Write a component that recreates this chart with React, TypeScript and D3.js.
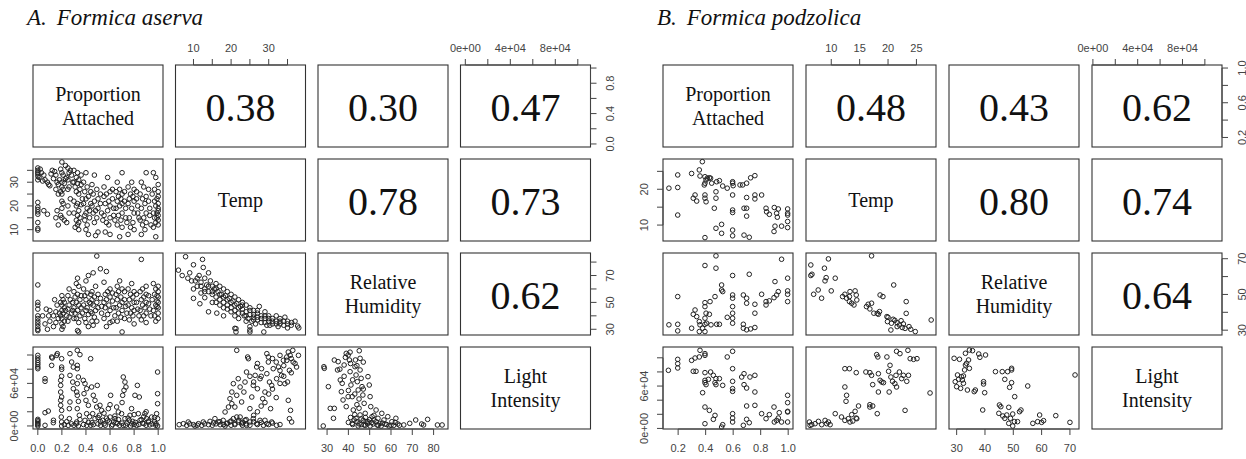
import * as d3 from 'd3';

type Pt = [number, number];

// ---------- A. Formica aserva (light in 1000s) ----------
const propTempA: Pt[] = [
  [0,36],[0,35],[0,34.2],[0,33.5],[0,32.5],[0,31],[0,21.5],[0,19.5],[0,18.5],[0,17.5],[0,16.5],[0,13],[0,10.5],[0,9.8],
  [.05,33],[.06,31],[.08,30],[.09,29],[.05,18],[.08,16.5],[.1,28.5],
  [.12,35],[.14,34.5],[.15,33],[.13,31.5],[.16,30],[.17,29],[.15,27],[.17,25],[.16,18],[.17,12],[.15,15],
  [.2,38.5],[.19,35.5],[.2,34],[.21,33],[.2,30],[.2,28],[.21,27],[.19,26],[.2,25],[.2,22],[.21,21],[.2,19],[.19,16],[.2,15],[.22,14],
  [.25,36],[.26,34],[.24,32],[.25,31],[.26,28],[.25,27],[.27,23],[.25,20],[.26,17],[.24,13],
  [.3,35],[.33,34],[.32,32],[.34,31],[.3,30],[.33,29.5],[.31,28],[.35,27],[.32,26],[.34,25],[.3,22],[.33,21],[.32,20],[.34,18],[.3,17],[.33,16],[.35,15],[.32,14],[.34,13],[.33,12],[.31,11],[.34,10],
  [.4,34],[.38,30],[.41,28],[.39,26],[.42,24],[.4,23],[.38,21],[.41,19],[.4,17],[.43,15],[.39,14],[.41,12],[.4,10],[.42,8],
  [.47,33],[.45,29],[.49,27],[.46,25],[.5,23],[.47,22],[.45,20],[.5,19],[.48,18],[.46,17],[.49,15],[.47,13],[.5,9],[.48,7.5],
  [.58,32],[.55,28],[.6,26],[.57,25],[.55,24],[.59,22],[.56,21],[.6,20],[.58,18],[.55,16],[.6,15],[.57,13],[.59,12],[.56,9],[.6,8],
  [.7,34],[.66,30],[.68,27],[.65,26],[.7,25],[.67,24],[.69,23],[.66,22],[.7,21],[.68,20],[.65,19],[.7,17],[.67,16],[.69,14],[.66,12],[.7,11],[.68,7],
  [.78,30],[.75,28],[.8,27],[.77,25],[.79,24],[.76,23],[.8,22],[.75,21],[.78,19],[.8,17],[.76,15],[.79,13],[.77,11],[.8,10],[.75,8],
  [.9,34],[.86,30],[.88,28],[.85,25],[.9,24],[.87,23],[.89,21],[.86,19],[.9,17],[.88,15],[.85,14],[.9,13],[.87,12],[.89,10],[.86,8],
  [.96,34],[.98,32],[1,29],[.97,27],[1,26],[.95,25],[1,24],[.97,22],[1,21],[.98,20],[1,19],[1,18],[.96,17],[1,16],[.97,15],[1,14],[.98,13],[1,12],[.96,11],[.98,7],
  [.02,35.5],[.03,34],[.01,32],[.04,30.5],[.11,33.5],[.18,31],[.22,29.5],[.23,31.5],[.28,33],[.29,30],[.36,29],[.37,23],[.36,20.5],
  [.39,16],[.44,26],[.44,21],[.43,18],[.52,25],[.52,21],[.53,17],[.54,14],[.62,27],[.62,23],[.63,19],[.63,16],[.64,14],[.72,26],
  [.72,22],[.73,19],[.73,15],[.74,13],[.82,26],[.82,23],[.83,20],[.83,17],[.84,15],[.92,27],[.92,22],[.93,19],[.93,16],[.94,12],
  [.99,23],[.99,17],[.99,15],[.36,33],[.27,35],[.23,37],
];

const propHumA: Pt[] = [
  [0,63],[0,50],[0,48],[0,45],[0,40],[0,38],[0,36],[0,34],[0,32],[0,30],[0,29],
  [.04,40],[.07,45],[.09,40],[.1,36],[.06,34],[.08,30],
  [.13,40],[.15,43],[.16,48],[.14,52],[.17,38],[.15,35],[.13,32],
  [.2,55],[.21,52],[.19,50],[.2,48],[.22,46],[.2,44],[.21,42],[.19,40],[.2,38],[.22,36],[.2,34],[.21,32],[.2,30],
  [.26,60],[.25,55],[.27,52],[.26,48],[.25,45],[.28,42],[.26,39],[.25,36],
  [.33,68],[.32,64],[.34,62],[.3,58],[.33,56],[.31,54],[.35,52],[.32,50],[.34,48],[.3,46],[.33,44],[.31,42],[.35,40],[.32,38],[.34,35],[.33,29],[.34,28],
  [.4,66],[.42,70],[.38,60],[.41,57],[.39,55],[.4,52],[.43,50],[.38,48],[.41,46],[.4,44],[.42,41],[.39,38],[.4,35],[.42,32],
  [.49,84.5],[.46,72],[.48,62],[.45,58],[.5,56],[.47,54],[.45,52],[.49,50],[.46,48],[.5,46],[.48,44],[.45,42],[.47,39],[.49,36],[.46,33],
  [.52,75],[.57,73],[.55,65],[.6,60],[.58,58],[.56,56],[.6,54],[.57,52],[.55,50],[.59,48],[.56,46],[.6,44],[.58,41],[.55,38],[.6,35],[.57,32],
  [.68,66],[.66,62],[.7,60],[.67,58],[.65,56],[.69,54],[.66,52],[.7,50],[.68,48],[.65,46],[.7,44],[.67,42],[.69,39],[.66,36],[.7,28],
  [.78,64],[.75,60],[.8,58],[.77,56],[.79,54],[.76,52],[.8,50],[.75,48],[.78,46],[.8,44],[.77,42],[.79,40],[.76,37],[.8,34],
  [.86,82],[.9,62],[.87,60],[.85,58],[.9,56],[.88,54],[.86,52],[.9,50],[.87,48],[.89,46],[.85,44],[.9,42],[.88,40],[.86,37],[.9,35],
  [.96,64],[1,62],[.98,60],[1,58],[.97,56],[1,54],[.95,52],[1,50],[.98,48],[1,46],[.96,44],[1,42],[.97,40],[1,38],[.98,36],
  [.22,50],[.23,44],[.24,40],[.29,50],[.29,44],[.36,55],[.36,46],[.37,42],[.44,56],[.44,49],[.44,43],[.52,53],[.53,47],[.53,42],
  [.62,57],[.62,51],[.63,46],[.64,40],[.72,58],[.72,52],[.73,47],[.74,42],[.82,56],[.82,50],[.83,45],[.84,40],[.92,55],[.92,49],
  [.93,45],[.94,40],[.99,55],[.99,51],[.99,47],[.1,44],[.18,42],[.3,38],[.45,36],[.62,36],[.72,38],
];

const tempHumA: Pt[] = [
  [6,74],[7,70],[7.9,84],[8.5,68],[9,72],[10,78],[10.5,66],[11,62],[11.5,70],[12.4,82],[12.6,76],[12,65],[13,68],[13,60],[13.5,63],
  [14,72],[14,58],[14.5,66],[15,62],[15,56],[15.5,60],[16,64],[16,54],[16.5,58],[17,62],[17,52],[17.5,56],[18,60],[18,50],[18.5,55],
  [19,58],[19,48],[19.5,53],[20,56],[20,46],[20.5,51],[21,54],[21,44],[21.3,28],[21.3,30.5],[21.5,49],[22,52],[22,42],[22.5,47],
  [23,50],[23,45],[23.5,40],[24,48],[24,43],[24.5,38],[25,46],[25,41],[25,28],[25.5,36],[26,44],[26,39],[26.5,34],[27,42],[27,37],
  [27.5,47],[28,40],[28,35],[28.7,28],[29,38],[29,43],[29.5,33],[30,40],[30,36],[30.3,33],[31,38],[31,34],[32,40],[32,36],[32.5,32],
  [33,38],[33,34],[34,36],[34.3,39],[35,34],[36,33],[36.1,35],[37,36],[37.7,32.4],[38,31],
  [10,60],[12,57],[15,50],[18,46],[22,38],[10,53],[11.7,49],[13,53.5],[14,43],[16.2,42],[21,30.7],[25,32],[25,29.5],
  [9.5,66],[11,68],[12,62],[13,58],[14,62],[15,58],[16,60],[16,50],[17,56],[17,48],[18,54],[19,52],[19,45],[20,50],[21,48],[21,40],
  [22,46],[23,42],[23,48],[24,40],[25,44],[26,41],[26,37],[27,39],[27,44],[28,38],[29,40],[29,35],[30,38],[31,36],[32,34],[33,36],
  [34,33],[35,36],[35,31],[20,43],[18,40],[24,36],
];

const propLightA: Pt[] = [
  [0,99.5],[0,95.8],[0,92.5],[0,89.2],[0,86.4],[0,83.1],[0,80.7],[0,9.3],[0,5.6],[0,1.8],[0,0],[0,3.5],[0,7.5],
  [.06,18.7],[.087,21],[.06,0.9],[.115,97.2],[.12,95.8],[.157,99.5],[.162,101.9],[.198,94.8],[.115,85.4],[.06,62.9],[.06,66.6],[.129,4.6],[.13,8],
  [.198,83],[.198,79.8],[.198,70.1],[.19,64.3],[.19,57.2],[.19,47.8],[.198,40.8],[.19,36.1],[.19,29.1],[.198,22],[.195,12.6],[.198,5.6],[.198,0],
  [.267,101.9],[.281,90.1],[.295,83],[.267,71.3],[.29,61.9],[.295,52.5],[.267,33.8],[.262,24.4],[.262,10.3],[.253,0.9],
  [.328,106.6],[.35,100.5],[.328,85.4],[.328,80.7],[.337,69],[.328,59.6],[.323,47.8],[.328,43.2],[.337,34.7],[.328,24.4],[.345,15],[.323,5.6],[.337,0],
  [.378,64.3],[.392,59.6],[.406,52.5],[.384,45.5],[.4,36.1],[.42,29.1],[.406,17.3],[.392,7.9],[.406,0.9],
  [.439,94.8],[.447,54.9],[.461,43.2],[.475,36.1],[.489,26.7],[.456,17.3],[.475,10.3],[.461,1.8],
  [.494,57.2],[.516,29.1],[.53,22],[.511,15],[.539,7.9],[.522,0.9],
  [.605,43.2],[.586,24.4],[.6,12.6],[.594,5.6],[.613,0],
  [.655,26.7],[.669,19.7],[.641,10.3],[.66,3.2],
  [.71,69],[.724,61.9],[.732,54.9],[.716,50.2],[.705,43.2],[.696,17.3],[.724,10.3],[.71,0.9],
  [.779,24.4],[.766,15],[.788,6.5],[.771,0],
  [.807,43.2],[.827,57.2],[.843,40.8],[.835,17.3],[.849,7.9],[.821,0.9],
  [.89,17.3],[.904,10.3],[.882,3.2],[.918,5.6],[.946,12.6],
  [.995,76],[.995,45.5],[.995,31.4],[.987,17.3],[.995,10.3],[.982,3.2],[.995,0],
  [.55,3],[.57,11],[.63,6],[.68,1],[.74,4],[.8,2],[.86,9],[.93,1.5],[.97,6],[.45,4.5],[.35,9],[.28,3],
  [.22,2],[.24,6],[.3,1],[.32,3],[.38,2],[.42,5],[.44,1],[.5,3],[.52,6],[.56,1],[.58,8],[.62,2],[.65,5],[.67,9],[.7,4],[.73,1],
  [.76,8],[.78,3],[.81,5],[.84,2],[.87,4],[.9,1],[.92,7],[.95,3],[.98,1],[.5,12],[.64,14],[.75,11],[.88,13],[.97,12],[.43,13],
  [.55,18],[.8,16],[.9,20],[.6,30],[.7,33],
];

const tempLightA: Pt[] = [
  [6.2,1.8],[7.3,3.2],[8.6,5.6],[10,1.8],[11.3,3.2],[12.6,5.6],[14,1.8],[15.3,4.2],[16.6,5.6],[17.1,1.8],[17.9,7.9],[18.8,3.2],[19.7,5.6],
  [15.7,10.3],[14.4,6.5],[20.6,10.3],[21,1.8],[21.9,5.6],[22.4,12.6],[22.8,3.2],[23.7,7.9],[24.1,0.9],[25,5.6],[25.9,10.3],[26.8,3.2],
  [27.7,7.9],[28.6,0.9],[29.5,3.2],[30.8,5.6],[32.1,0.9],[12.2,0.9],[8.2,0.9],[10.4,0],[18.4,0],
  [18.4,19.7],[19.3,26.7],[19.7,38.4],[20.2,47.8],[20.6,59.6],[20.2,31.4],[21,26.7],[21.5,43.2],[21.9,66.6],[22.4,54.9],[21.5,12.6],
  [22.8,33.8],[23.4,47.8],[23.7,61.9],[24.1,76],[24.4,97.2],[25,24.4],[25.5,40.8],[25.9,57.2],[26.4,71.3],[26.8,83.1],[27,52.5],
  [27.7,66.6],[28.1,80.7],[28.4,38.4],[29,47.8],[29.5,73.7],[29.9,90.1],[30.2,61.9],[30.5,24.4],[30.8,57.2],[31.2,80.7],[32.1,66.6],
  [32.6,83.1],[33,99.5],[33.4,71.3],[33.9,92.5],[34.3,59.6],[34.8,97.2],[35.2,104.2],[35.5,78.4],[35.2,36.1],[35.8,22],[35.5,10.3],
  [36.1,5.6],[36.5,90.1],[37.4,83.1],[37.9,99.5],[21.5,106.6],[24.6,94.8],[29.5,101.9],[29.9,97.2],[34.8,92.5],[35.7,99.5],[36.4,106.6],
  [9,3],[11,1],[13,3],[15,1],[16,3],[17,6],[18,2],[19,4],[20,1],[20,7],[21,3],[22,8],[23,1],[23,5],[24,3],[24,9],[25,1],[26,6],
  [27,2],[28,5],[29,8],[30,2],[31,4],[33,2],[26,15],[27,20],[28,28],[29,33],[30,45],[31,52],[32,40],[33,60],[33,78],[34,85],
  [34,70],[35,62],[36,75],[36,95],[37,88],[31,95],[32,90],[28,70],[27,88],[26,62],[25,70],
];

const humLightA: Pt[] = [
  [28.2,0],[28.5,83.5],[28.7,81.2],[30.6,55.4],[31.5,24.8],[33.4,24.8],[33,10.8],[33.4,92.9],[34.9,78.9],[35.2,90.6],[36.2,64.8],
  [36.7,48.3],[37.5,36.6],[38,85.9],[38.6,96.7],[39,102.3],[39.9,100],[40.5,92.9],[40.8,76.5],[41.2,57.7],[41.8,41.3],[42.3,22.5],
  [42.7,8.4],[43.1,83.5],[43.6,71.8],[44.2,62.4],[44.6,50.7],[45.1,106],[45.5,95.3],[45.5,78.9],[46,67.1],[46.4,55.4],[46.8,43.6],
  [47.4,31.9],[47.9,17.8],[48.3,6],[49.2,69.5],[49.8,57.7],[50.2,41.3],[50.5,27.2],[51.1,13.1],[51.6,2.8],[53,22.5],[53.9,10.8],
  [54.8,3.7],[55.7,17.8],[56.7,8.4],[58.5,13.1],[60.4,6],[62.3,10.8],[63.2,2.8],[66,1.4],[68.8,3.7],[71.6,8.4],[74.4,2.8],[77.2,9.3],
  [75.3,1.4],[81.8,1.4],[84,1.4],[43.6,10.8],[45.5,15.5],[47.4,1.4],[49.2,6],[50.2,0],[52,8.4],[53.5,1.4],[55.4,0],[57.2,2.8],
  [59.1,0],[61.3,0.9],[44.6,0],[41.8,3.7],[39,27.2],[39.9,41.3],[37.1,60.1],[43.3,93],[40.8,104],
  [40,5],[41,12],[42,2],[43,16],[44,6],[45,3],[45,25],[46,10],[46,2],[47,8],[48,12],[48,1],[49,3],[50,9],[51,5],[52,15],[53,6],
  [54,1],[56,4],[58,2],[60,1],[62,5],[64,1],[45,38],[44,30],[42,65],[40,50],[38,70],[36,80],[41,88],[44,85],[47,90],[43,45],[47,52],
];

// ---------- B. Formica podzolica (light in 1000s) ----------
const propTempB: Pt[] = [
  [.376,27.7],[.133,20.3],[.197,24],[.197,20.5],[.197,12.8],[.298,24.4],[.354,25.4],[.359,23.7],[.395,23.5],[.403,22.6],[.412,23.1],
  [.427,23.2],[.436,23.1],[.395,21.7],[.39,21.2],[.444,21.7],[.48,22.1],[.5,22.4],[.524,20.9],[.557,20.3],[.596,22.1],[.596,21.7],
  [.6,21],[.65,21.2],[.669,21.2],[.698,21.7],[.727,23.2],[.758,23.8],[.323,18.4],[.31,17.5],[.335,16.7],[.395,18.4],[.395,17.5],
  [.403,16.5],[.475,19.3],[.475,17.5],[.596,18.4],[.698,17.7],[.758,18.4],[.758,17.3],[.807,18.4],[.463,14.7],[.596,14.2],[.596,13.5],
  [.679,14.7],[.698,14.7],[.698,12.5],[.839,14.7],[.843,13.7],[.863,13],[.899,14.9],[.916,13.3],[.921,12.2],[.928,14.5],[.996,14.5],
  [.996,13.3],[.996,12.8],[.996,11],[.996,9.3],[.904,9.7],[.897,8.2],[.952,9.7],[.475,9.1],[.516,10.2],[.516,7.7],[.596,8.6],
  [.596,7],[.395,6.5],[.679,7.2],[.717,6.6],
];

const propHumB: Pt[] = [
  [.475,71.6],[.395,66.2],[.475,64.7],[.952,69.7],[.596,60.6],[.717,61.3],[.904,57.2],[.996,59.1],[.197,48.8],[.516,55.3],[.516,52.5],
  [.524,51.6],[.468,48.8],[.432,46],[.395,45.4],[.395,43.2],[.403,39.5],[.427,38.9],[.323,41.3],[.31,38.9],[.335,37.6],[.395,36.7],
  [.596,49.7],[.596,47.9],[.596,43.2],[.596,39.5],[.596,36.7],[.557,37.2],[.674,49.7],[.698,47.9],[.698,45.1],[.758,44.5],[.758,39.5],
  [.807,50.1],[.839,46],[.839,44.1],[.863,46.4],[.897,48.2],[.916,49.7],[.928,51.6],[.996,52],[.996,50.1],[.996,46],[.133,33],
  [.197,33.3],[.197,29.6],[.298,31.1],[.354,34.8],[.359,33],[.378,31.1],[.395,33.3],[.407,33.9],[.439,33],[.48,33.3],[.5,33.3],
  [.354,29.2],[.395,29.2],[.596,33.9],[.674,33.3],[.674,31.1],[.698,30.2],[.727,30.7],[.758,31.5],
];

const tempHumB: Pt[] = [
  [6.4,66.5],[6.6,61.3],[6.4,60.6],[8.8,64.7],[9.5,69.9],[9.1,59.4],[8.9,57.6],[10.7,59.1],[6.9,50.1],[7.7,52.5],[8.3,47.9],[10,52],
  [12,48.8],[12.4,50.1],[12.7,47.9],[13.2,46],[14,44.1],[13.3,51.6],[14.2,52],[14.5,46.9],[14.4,49.7],[13.2,48.8],[13.6,45.1],
  [17.1,71.6],[16.2,43.2],[16.5,44.5],[16.8,41.9],[17.1,45.1],[18.6,49.7],[19.1,48.8],[17.5,39.5],[18.3,38.9],[18.5,40.4],[19.8,37.6],
  [19.9,34.8],[21,55.3],[23.2,46],[20,37.2],[20.9,36.1],[21.6,34.2],[22,32.9],[22.3,35.3],[22.7,33.5],[21.6,32],[20.5,30.1],[23,31],
  [23.7,32],[24.8,29.2],[27.6,35.7],[23.2,39.4],[18.1,39.4],[20.6,33.9],[22.5,31.5],[21.2,35.5],[24,30.5],
];

const propLightB: Pt[] = [
  [.129,82.3],[.197,97.8],[.197,91.7],[.197,85.6],[.298,96.4],[.323,99.7],[.354,101.2],[.359,110.6],[.395,105.9],[.395,103.5],[.31,80.9],
  [.33,80.9],[.395,79],[.436,79.9],[.456,75.2],[.475,70.5],[.5,70.5],[.395,68.1],[.395,64.8],[.403,62],[.42,69.5],[.468,64.8],[.475,62],
  [.524,61],[.557,101.2],[.596,109.2],[.596,84.6],[.596,66.7],[.596,56.3],[.596,52.5],[.378,50.6],[.662,72.8],[.679,77.5],[.722,72.8],
  [.758,75.2],[.679,62],[.698,57.2],[.758,51.6],[.395,30.3],[.427,25.6],[.468,18.5],[.456,12.9],[.395,6.7],[.524,5.3],[.516,2],
  [.596,20.9],[.596,14.7],[.596,9.1],[.674,4.4],[.698,12.9],[.717,8.1],[.698,31.8],[.758,32.7],[.807,20.9],[.839,13.8],[.863,19.5],
  [.897,30.3],[.935,22.3],[.899,9.1],[.916,11.4],[.928,14.7],[.952,9.1],[.996,46.9],[.996,36.5],[.996,24.2],[.996,23.3],[.996,9.1],
];

const tempLightB: Pt[] = [
  [6.15,9.1],[6.56,5.3],[7.15,6.7],[7.74,10],[8.32,5.3],[8.91,11.4],[9.5,9.1],[9.8,5.3],[9.2,6.7],[6.27,4.4],
  [10.7,20.9],[11.8,16.2],[12.4,11.4],[13,13.8],[13.6,19.5],[14.2,24.2],[14.4,14.7],[14.5,13.8],[13.8,10.5],[13.3,9.1],
  [12.6,38.4],[12.7,46.9],[12.4,58.7],[12.4,84.6],[13.2,84.6],[14.4,79],[14.8,31.8],[16.8,33.6],[17.3,31.8],[16.8,30.3],
  [16.1,79.9],[16.8,79],[17.1,75.2],[17.3,62],[18.3,51.6],[18.1,20.9],[18.3,77.5],[18.6,68.1],[18.9,65.7],
  [18,104.5],[18.2,101.2],[19.8,101.2],[21.5,109.2],[22.1,105.9],[23.5,110.6],[23.9,98.8],[24.5,97.8],[25.1,98.8],
  [20.1,80.9],[20.35,89.4],[20.5,72.8],[20.8,66.7],[21.2,63.4],[21.5,58.7],[21.4,75.2],[22,79.9],[22.4,70.5],[22.7,75.2],
  [23.3,66.7],[23.6,75.2],[20.2,51.6],[19.2,64.8],[23,25.6],[27.4,50.2],
];

const humLightB: Pt[] = [
  [29.1,99.3],[31,97.9],[30.3,75.7],[29.5,66.2],[30,59.1],[31.4,56.8],[32,68.6],[32.4,74.3],[32.8,82.8],[33.1,89.8],[32.4,63.9],
  [33.5,92.2],[34.2,96.9],[34.5,85.1],[33.1,106.4],[31.7,73.3],[30.7,69.5],[33.8,54.4],[36.2,52.1],[36.6,54.4],[34.5,111],
  [35.6,110.1],[38.2,100.7],[37.8,105.4],[40.2,104],[39.5,66.2],[39.5,62.9],[39.9,50.6],[39.2,26.1],[43.7,80.4],[46.1,80.4],
  [48,80.4],[49.4,82.8],[49.4,85.1],[47,69.5],[49.4,64.8],[48.7,58.2],[50.5,45],[45.1,33.2],[45.6,30.8],[48.4,29.9],[44.9,21.4],
  [46.3,17.6],[47,14.3],[47.7,19],[49,14.3],[49.8,20.4],[50.4,9.6],[48.4,7.2],[49.8,3.4],[51.5,9.6],[52.2,23.7],[52.7,26.1],
  [55.1,60.1],[59.3,19],[58.6,9.6],[60,8.6],[60.7,11],[65,18.1],[56.9,7.2],[70,8.6],[71.8,75.7],
];

const varLabels = [['Proportion', 'Attached'], ['Temp'], ['Relative', 'Humidity'], ['Light', 'Intensity']];
const corsA = ['0.38', '0.30', '0.47', '0.78', '0.73', '0.62'];
const corsB = ['0.48', '0.43', '0.62', '0.80', '0.74', '0.64'];
// observed ranges: proportion, temp, humidity, light (1000s)
const rangesA = [[0, 1], [6.5, 38.5], [28, 84.5], [0, 107]];
const rangesB = [[0.125, 1], [6.4, 27.6], [29, 71.5], [3.5, 111]];

const BW = 130;
const BH = 82;
const ROWS = [65, 159, 253, 347];
const SANS = "'Liberation Sans'";
const SERIF = "'Liberation Serif'";
const GRAY = '#444';

const sci = (v: number) => (v === 0 ? '0e+00' : `${v / 10}e+04`);
const fmts = [d3.format('.1f'), d3.format('d'), d3.format('d'), sci];

function Matrix({ x0, step, letter, species, ranges, cors, pairs, outerStep }: any) {
  const cols = [0, 1, 2, 3].map(i => x0 + i * step);
  const padded = ranges.map((r: number[]) => {
    const p = (r[1] - r[0]) * 0.04;
    return [r[0] - p, r[1] + p];
  });
  const sx = padded.map((d: number[]) => d3.scaleLinear().domain(d).range([0, BW]));
  const sy = padded.map((d: number[]) => d3.scaleLinear().domain(d).range([BH, 0]));
  const sideStep = [2, 2, 2, 3];

  const cells: any[] = [];
  let k = 0;
  for (let r = 0; r < 4; r++) {
    for (let c = 0; c < 4; c++) {
      const x = cols[c];
      const y = ROWS[r];
      const key = `${r}-${c}`;
      cells.push(<rect key={'b' + key} x={x} y={y} width={BW} height={BH} fill="none" stroke="#333" strokeWidth={1.1} />);
      if (r === c) {
        const lines = varLabels[r];
        const cy = y + BH / 2;
        const ys = lines.length === 1 ? [cy + 7] : [cy - 5.5, cy + 19];
        lines.forEach((t, i) =>
          cells.push(
            <text key={'l' + key + i} x={x + BW / 2} y={ys[i]} textAnchor="middle" style={{ fontFamily: SERIF, fontSize: 20 }} fill="#111">{t}</text>
          )
        );
      } else if (c > r) {
        cells.push(
          <text key={'c' + key} x={x + BW / 2} y={y + BH / 2 + 14.5} textAnchor="middle" style={{ fontFamily: SERIF, fontSize: 40 }} fill="#111">{cors[k++]}</text>
        );
      } else {
        const data: Pt[] = pairs[key];
        cells.push(
          <g key={'p' + key} transform={`translate(${x},${y})`}>
            {data.map((d, i) => (
              <circle key={i} cx={sx[c](d[0])} cy={sy[r](d[1])} r={2.3} fill="none" stroke="#222" strokeWidth={1} />
            ))}
          </g>
        );
      }
    }
  }

  const axes: any[] = [];
  // top (cols 1, 3) and bottom (cols 0, 2)
  [0, 1, 2, 3].forEach(c => {
    const top = c % 2 === 1;
    const ticks = sx[c].ticks(5);
    const y = top ? ROWS[0] : ROWS[3] + BH;
    const dir = top ? -1 : 1;
    axes.push(
      <g key={'h' + c} transform={`translate(${cols[c]},${y})`} stroke={GRAY} strokeWidth={1}>
        <line x1={sx[c](ticks[0])} x2={sx[c](ticks[ticks.length - 1])} y1={0} y2={0} />
        {ticks.map((t: number) => <line key={t} x1={sx[c](t)} x2={sx[c](t)} y1={0} y2={dir * 6} />)}
        {ticks.map((t: number, i: number) =>
          i % outerStep[c] === 0 ? (
            <text key={'t' + t} x={sx[c](t)} y={top ? -13 : 23} textAnchor="middle" stroke="none" fill={GRAY} style={{ fontFamily: SANS, fontSize: 11 }}>{fmts[c](t)}</text>
          ) : null
        )}
      </g>
    );
  });
  // left (rows 1, 3) and right (rows 0, 2)
  [0, 1, 2, 3].forEach(r => {
    const left = r % 2 === 1;
    const ticks = sy[r].ticks(5);
    const x = left ? cols[0] : cols[3] + BW;
    const dir = left ? -1 : 1;
    axes.push(
      <g key={'v' + r} transform={`translate(${x},${ROWS[r]})`} stroke={GRAY} strokeWidth={1}>
        <line x1={0} x2={0} y1={sy[r](ticks[0])} y2={sy[r](ticks[ticks.length - 1])} />
        {ticks.map((t: number) => <line key={t} x1={0} x2={dir * 6} y1={sy[r](t)} y2={sy[r](t)} />)}
        {ticks.map((t: number, i: number) =>
          i % sideStep[r] === 0 ? (
            <text key={'t' + t} transform={`translate(${left ? -15 : 23.5},${sy[r](t)}) rotate(-90)`} textAnchor="middle" stroke="none" fill={GRAY} style={{ fontFamily: SANS, fontSize: 11 }}>{fmts[r](t)}</text>
          ) : null
        )}
      </g>
    );
  });

  return (
    <g>
      <text x={x0 - 6} y={25} style={{ fontFamily: SERIF, fontStyle: 'italic', fontSize: 23 }} fill="#111">
        {letter}
        <tspan dx={10}>{species}</tspan>
      </text>
      {cells}
      {axes}
    </g>
  );
}

export default function App() {
  const pairsA = {
    '1-0': propTempA, '2-0': propHumA, '2-1': tempHumA,
    '3-0': propLightA, '3-1': tempLightA, '3-2': humLightA,
  };
  const pairsB = {
    '1-0': propTempB, '2-0': propHumB, '2-1': tempHumB,
    '3-0': propLightB, '3-1': tempLightB, '3-2': humLightB,
  };
  return (
    <svg width={1246} height={459} style={{ position: 'absolute', left: 0, top: 0, background: '#fff' }}>
      <Matrix x0={33} step={142.5} letter="A." species="Formica aserva" ranges={rangesA} cors={corsA} pairs={pairsA} outerStep={[1, 2, 1, 2]} />
      <Matrix x0={663} step={143} letter="B." species="Formica podzolica" ranges={rangesB} cors={corsB} pairs={pairsB} outerStep={[1, 1, 1, 2]} />
    </svg>
  );
}
